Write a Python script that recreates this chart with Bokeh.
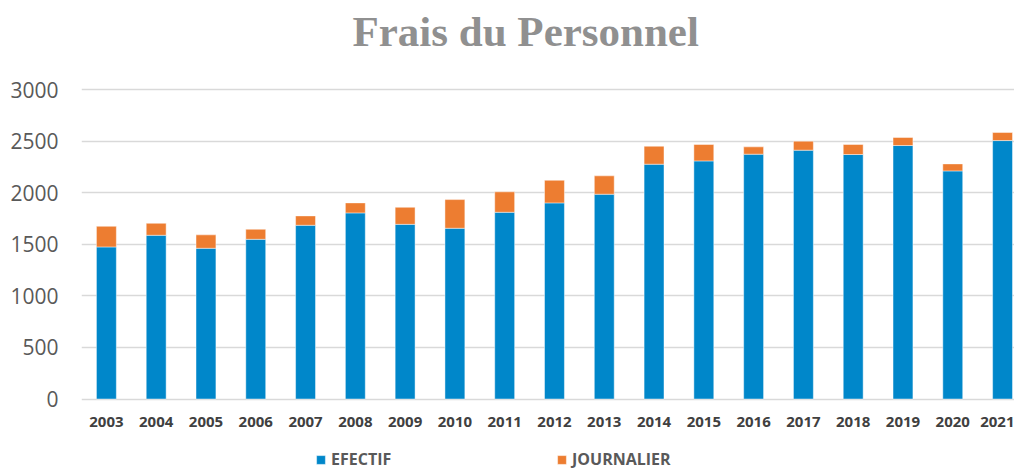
from bokeh.plotting import figure
from bokeh.models import (Range1d, FixedTicker, Label, Legend, LegendItem,
                          ColumnDataSource)
from bokeh.embed import file_html
from bokeh.resources import INLINE

# ---- data ----
years = ["2003", "2004", "2005", "2006", "2007", "2008", "2009", "2010", "2011",
         "2012", "2013", "2014", "2015", "2016", "2017", "2018", "2019", "2020", "2021"]
efectif = [1474, 1587, 1461, 1548, 1684, 1804, 1693, 1655, 1810,
           1901, 1985, 2276, 2308, 2373, 2412, 2370, 2457, 2211, 2505]
journalier = [200, 116, 130, 97, 91, 97, 165, 278, 198,
              219, 178, 174, 159, 71, 87, 97, 78, 68, 78]
series = ["EFECTIF", "JOURNALIER"]
colors = ["#0087CA", "#ED7D31"]
title_text = "Frais du Personnel"
y_ticks = [0, 500, 1000, 1500, 2000, 2500, 3000]

idx = list(range(len(years)))
source = ColumnDataSource(dict(x=idx, EFECTIF=efectif, JOURNALIER=journalier))

W, H = 1014, 470
# frame covers full height; value 0 sits at y=398.5px, 3000 at y=89px
ppu = (398.5 - 89) / 3000.0
y_top = 3000 + 89 / ppu
y_bot = -(H - 398.5) / ppu

p = figure(width=W, height=H, output_backend="svg", toolbar_location=None,
           x_range=Range1d(-0.5, 18.24), y_range=Range1d(y_bot, y_top),
           min_border_left=81, min_border_right=0, min_border_top=0,
           min_border_bottom=0)
p.title.visible = False
p.outline_line_color = None
p.background_fill_color = "white"
p.border_fill_color = "white"

renderers = p.vbar_stack(series, x="x", width=0.4, source=source,
                         color=colors, line_color="white", line_alpha=0.45,
                         line_width=1)

# y axis
ya = p.yaxis[0]
ya.ticker = FixedTicker(ticks=y_ticks)
ya.axis_line_color = None
ya.major_tick_line_color = None
ya.minor_tick_line_color = None
ya.major_tick_out = 0
ya.major_label_standoff = 23
ya.major_label_text_font = "Open Sans"
ya.major_label_text_font_size = "21px"
ya.major_label_text_color = "#595959"

# x axis (pinned at value 0)
xa = p.xaxis[0]
xa.fixed_location = 0
xa.ticker = FixedTicker(ticks=idx)
xa.major_label_overrides = {i: y for i, y in zip(idx, years)}
xa.axis_line_color = None
xa.major_tick_line_color = None
xa.minor_tick_line_color = None
xa.major_tick_out = 0
xa.major_label_standoff = 18
xa.major_label_text_font = "Open Sans"
xa.major_label_text_font_style = "bold"
xa.major_label_text_font_size = "15px"
xa.major_label_text_color = "#404040"

p.xgrid.visible = False
p.ygrid.ticker = FixedTicker(ticks=y_ticks)
p.ygrid.grid_line_color = "#d9d9d9"
p.ygrid.grid_line_width = 1.5

# title (screen units relative to the frame, y measured from bottom)
title = Label(x=271, y=H - 31, x_units="screen", y_units="screen", text=title_text,
              text_font="Liberation Serif", text_font_style="bold",
              text_font_size="43px", text_color="#909090",
              text_align="left", text_baseline="alphabetic")
p.add_layout(title)

# legend
legend = Legend(items=[LegendItem(label=s, renderers=[r]) for s, r in zip(series, renderers)],
                location=(234, 0), orientation="horizontal",
                glyph_width=11, glyph_height=11, label_standoff=5,
                label_width=62, spacing=163, padding=0, margin=0,
                border_line_color=None, background_fill_alpha=0,
                label_text_font="Open Sans", label_text_font_style="bold",
                label_text_font_size="16px", label_text_color="#595959")
p.add_layout(legend, "center")

open("out.html", "w").write(file_html(p, INLINE))
